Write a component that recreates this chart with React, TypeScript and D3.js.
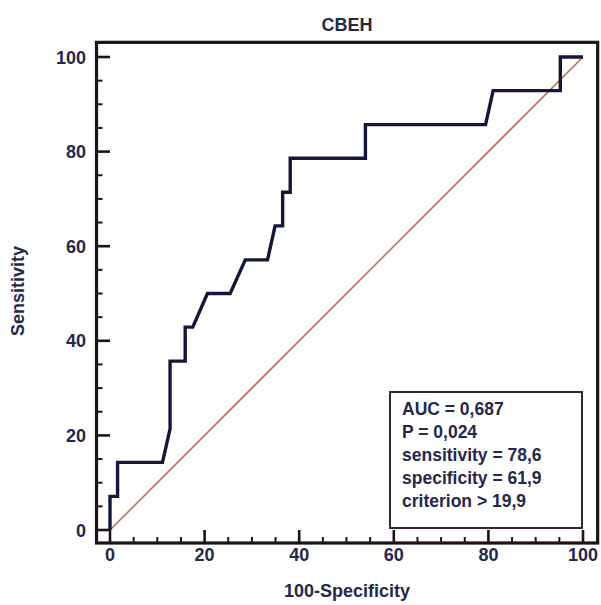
import React, { useEffect, useRef } from 'react';
import * as d3 from 'd3';

// ROC curve points (100-Specificity, Sensitivity)
const fpr = [0, 0, 1.6, 1.6, 11.1, 12.7, 12.7, 15.9, 15.9, 17.5, 20.6, 25.4, 28.6, 33.3, 34.9, 36.5, 36.5, 38.1, 38.1, 54.0, 54.0, 79.4, 81.0, 95.2, 95.2, 100];
const tpr = [0, 7.1, 7.1, 14.3, 14.3, 21.4, 35.7, 35.7, 42.9, 42.9, 50, 50, 57.1, 57.1, 64.3, 64.3, 71.4, 71.4, 78.6, 78.6, 85.7, 85.7, 92.9, 92.9, 100, 100];

const majorTicks = [0, 20, 40, 60, 80, 100];
const minorTicks = d3.range(0, 101, 5).filter(v => v % 20 !== 0);

const statLines = ['AUC = 0,687', 'P = 0,024', 'sensitivity = 78,6', 'specificity = 61,9', 'criterion > 19,9'];

const title = 'CBEH';
const xLabel = '100-Specificity';
const yLabel = 'Sensitivity';

const FONT = '"Liberation Sans", Arial, sans-serif';
const TEXT = '#25284a';
const FRAME = '#1c1414';

const App = () => {
	const chartRef = useRef<HTMLDivElement>(null);

	useEffect(() => {
		if (!chartRef.current) return;
		const width = 601;
		const height = 605;

		d3.select(chartRef.current).selectAll('*').remove();

		const svg = d3
			.select(chartRef.current)
			.append('svg')
			.attr('width', width)
			.attr('height', height)
			.style('position', 'absolute')
			.style('left', '0px')
			.style('top', '0px')
			.style('font-family', FONT);

		const x = d3.scaleLinear().domain([0, 100]).range([110, 583]);
		const y = d3.scaleLinear().domain([0, 100]).range([530, 57]);

		// plot frame, a bit wider than the data range
		const left = x(-2.85), right = x(103.1), top = y(103.1), bottom = y(-2.75);

		svg.append('rect')
			.attr('width', width)
			.attr('height', height)
			.attr('fill', '#fff');

		// diagonal reference line
		svg.append('line')
			.attr('x1', x(0)).attr('y1', y(0))
			.attr('x2', x(100)).attr('y2', y(100))
			.attr('stroke', '#b7705f')
			.attr('stroke-width', 1.6);

		// stats box
		const box = svg.append('g');
		box.append('rect')
			.attr('x', 390)
			.attr('y', 392)
			.attr('width', 192)
			.attr('height', 136)
			.attr('fill', '#fff')
			.attr('stroke', '#3a2626')
			.attr('stroke-width', 2);
		statLines.forEach((t, i) => {
			box.append('text')
				.attr('x', 402)
				.attr('y', 415 + i * 23)
				.attr('fill', TEXT)
				.style('font-size', '17.5px')
				.style('font-weight', 'bold')
				.text(t);
		});

		// ROC curve
		const line = d3.line<number>()
			.x(d => x(fpr[d]))
			.y(d => y(tpr[d]));
		svg.append('path')
			.datum(d3.range(fpr.length))
			.attr('fill', 'none')
			.attr('stroke', '#141838')
			.attr('stroke-width', 3.4)
			.attr('stroke-linejoin', 'miter')
			.attr('d', line);

		// frame
		svg.append('rect')
			.attr('x', left)
			.attr('y', top)
			.attr('width', right - left)
			.attr('height', bottom - top)
			.attr('fill', 'none')
			.attr('stroke', FRAME)
			.attr('stroke-width', 3.2);

		// inward ticks
		const tickG = svg.append('g').attr('stroke', FRAME);
		majorTicks.forEach(v => {
			tickG.append('line')
				.attr('x1', left).attr('x2', x(0))
				.attr('y1', y(v)).attr('y2', y(v))
				.attr('stroke-width', 2.6);
			tickG.append('line')
				.attr('x1', x(v)).attr('x2', x(v))
				.attr('y1', bottom).attr('y2', y(0))
				.attr('stroke-width', 2.6);
		});
		minorTicks.forEach(v => {
			tickG.append('line')
				.attr('x1', left).attr('x2', left + 6)
				.attr('y1', y(v)).attr('y2', y(v))
				.attr('stroke-width', 2);
			tickG.append('line')
				.attr('x1', x(v)).attr('x2', x(v))
				.attr('y1', bottom).attr('y2', bottom - 6)
				.attr('stroke-width', 2);
		});

		// tick labels
		majorTicks.forEach(v => {
			svg.append('text')
				.attr('x', 86)
				.attr('y', y(v) + 6.5)
				.attr('text-anchor', 'end')
				.attr('fill', TEXT)
				.style('font-size', '18px')
				.style('font-weight', 'bold')
				.text(v);
			svg.append('text')
				.attr('x', x(v))
				.attr('y', 561)
				.attr('text-anchor', 'middle')
				.attr('fill', TEXT)
				.style('font-size', '18px')
				.style('font-weight', 'bold')
				.text(v);
		});

		// titles
		svg.append('text')
			.attr('x', (left + right) / 2)
			.attr('y', 31)
			.attr('text-anchor', 'middle')
			.attr('fill', TEXT)
			.style('font-size', '18px')
			.style('font-weight', 'bold')
			.text(title);

		svg.append('text')
			.attr('x', (left + right) / 2)
			.attr('y', 597)
			.attr('text-anchor', 'middle')
			.attr('fill', TEXT)
			.style('font-size', '18px')
			.style('font-weight', 'bold')
			.text(xLabel);

		svg.append('text')
			.attr('transform', `translate(24,291) rotate(-90)`)
			.attr('text-anchor', 'middle')
			.attr('fill', TEXT)
			.style('font-size', '18px')
			.style('font-weight', 'bold')
			.text(yLabel);
	}, []);

	return <div ref={chartRef}></div>;
};

export default App;
